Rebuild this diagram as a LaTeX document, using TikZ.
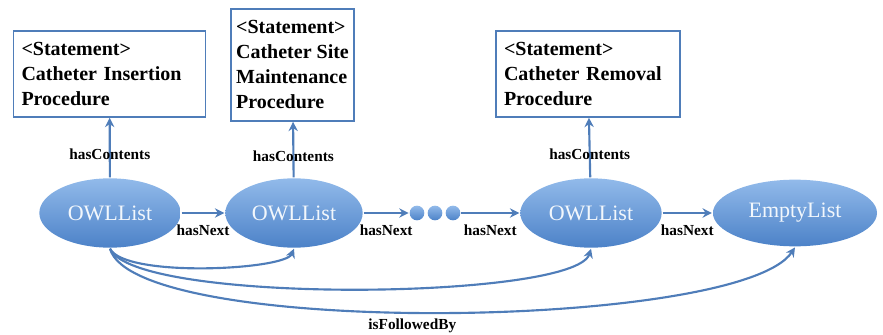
\documentclass[tikz,border=0pt]{standalone}
\usepackage{fontspec}
\setmainfont{Liberation Serif}
\usetikzlibrary{arrows.meta}
\usetikzlibrary{positioning}
\usetikzlibrary{shapes.geometric}
\definecolor{linkblue}{RGB}{79,125,185}
\definecolor{owltop}{RGB}{146,186,234}
\definecolor{owlbottom}{RGB}{76,130,200}
\tikzset{
	owl/.style={ellipse, top color=owltop, bottom color=owlbottom, text=white!88!owltop, font=\fontsize{16.5}{18}\selectfont, minimum width=106pt, minimum height=52pt, inner sep=0pt},
	stmt/.style={draw=linkblue, line width=1.2pt, fill=white, align=left, inner xsep=6pt, font=\bfseries\fontsize{15}{18.75}\selectfont},
	rel/.style={font=\bfseries\fontsize{11.5}{13}\selectfont, text=black},
	listdot/.style={circle, top color=owltop, bottom color=owlbottom, minimum size=11pt, inner sep=0pt},
}
\begin{document}
\begin{tikzpicture}
		[x=0.75pt, y=-0.75pt, line width=1.6pt, >={Stealth[length=7pt, width=7pt]}]
		\useasboundingbox (0,0) rectangle (883,335);
		\coordinate (a) at (110,213);
		\coordinate (b) at (294,213);
		\coordinate (c) at (591,213);
		\coordinate (d) at (795,213);
		\node[owl] (l1) at (a) {OWLList};
		\node[owl, minimum width=103pt] (l2) at (b) {OWLList};
		\node[owl] (l3) at (c) {OWLList};
		\node[owl, minimum width=123pt, minimum height=50pt] (l4) at (d) {EmptyList};
		\node[listdot] (p1) at (417,213) {};
		\node[listdot] (p2) at (435,213) {};
		\node[listdot] (p3) at (453,213) {};
		\node[stmt, text width=132pt, minimum height=64.5pt] (s1) at (109.5,74) {<Statement>\\Catheter Insertion\\Procedure};
		\node[stmt, inner xsep=4pt, minimum height=84pt] (s2) at (292.5,65) {<Statement>\\Catheter Site\\Maintenance\\Procedure};
		\node[stmt, text width=126pt, minimum height=64.5pt] (s3) at (588,74) {<Statement>\\Catheter Removal\\Procedure};
		\draw[->, linkblue] (l1) to node[rel, pos=0.38] {hasContents} (s1);
		\draw[->, linkblue] (l2) to node[rel, pos=0.38] {hasContents} (s2);
		\draw[->, linkblue] (l3) to node[rel, pos=0.38] {hasContents} (s3);
		\draw[->, linkblue] (l1) to node[rel, midway, below=5pt] {hasNext} (l2);
		\draw[->, linkblue] (l2) to node[rel, midway, below=5pt] {hasNext} (p1);
		\draw[->, linkblue] (p3) to node[rel, midway, below=5pt] {hasNext} (l3);
		\draw[->, linkblue] (l3) to node[rel, midway, below=5pt] {hasNext} (l4);
		\draw[->, linkblue] (l1.south) .. controls (125,278) and (285,270) .. (l2.south);
		\draw[->, linkblue] (l1.south) .. controls (135,305) and (575,300) .. (l3.south);
		\draw[->, linkblue] (l1.south) .. controls (135,338) and (740,330) .. node[rel, pos=0.47, below=1pt] {isFollowedBy} (l4.south);
	\end{tikzpicture}
\end{document}
